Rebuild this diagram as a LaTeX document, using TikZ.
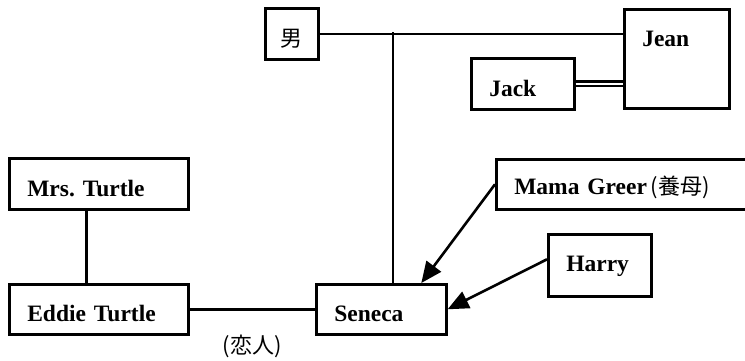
\documentclass[tikz,border=0pt]{standalone}
\usepackage{fontspec}
\setmainfont[WordSpace=0.8]{Liberation Serif}
\newfontfamily\cjk{Noto Sans CJK JP}
\usetikzlibrary{arrows.meta}

\begin{document}
\begin{tikzpicture}[x=1pt, y=-1pt, line width=2.6pt, >={Triangle[length=21pt, width=18pt]}, font=\fontsize{23.5}{26}\selectfont\bfseries]
    \tikzstyle{person}=[draw=black, rectangle, line width=2.6pt, anchor=north west, inner xsep=18pt, inner ysep=0pt, text height=38pt, text depth=13pt, align=left]
    \tikzstyle{kanji}=[font=\fontsize{22}{24}\selectfont\mdseries\cjk]

    \useasboundingbox (0,0) rectangle (745,360);

    % family boxes
    \node[person, kanji, inner xsep=0pt, minimum width=53pt, align=center] (man) at (264,7) {男};
    \node[person, text width=69pt, text height=37pt, text depth=62pt] (jean) at (623,8) {Jean};
    \node[person, text width=67pt] (jack) at (470,57) {Jack};
    \node[person, text width=143pt] (mrs) at (8,157) {Mrs.\ Turtle};
    \node[person, text width=143pt, text height=37pt] (eddie) at (8,283) {Eddie Turtle};
    \node[person, text width=94pt, text height=37pt] (seneca) at (315,283) {Seneca};
    \node[person, text width=229pt, text height=35pt, text depth=15pt] (mama) at (495,158) {Mama Greer\,{\fontsize{22}{24}\selectfont\mdseries\cjk(養母)}};
    \node[person, text width=67pt, text height=37pt, text depth=25pt] (harry) at (547,233) {Harry};

    \node[kanji] (lovers) at (252,346) {(恋人)};

    % ties
    \coordinate (split) at (393,32);
    \draw (man.east) -- (man.east -| jean.west);
    \draw (split) -- (split |- seneca.north);
    \draw[line width=2.4pt, double, double distance=2.4pt] (jack.east) -- (jack.east -| jean.west);
    \draw ([xshift=-12.5pt]mrs.south) -- ([xshift=-12.5pt]eddie.north);
    \draw (eddie) -- (seneca);

    \draw[->] (mama.west) -- ([xshift=40pt]seneca.north);
    \draw[->] ([yshift=6pt]harry.west) -- (seneca.east);
\end{tikzpicture}
\end{document}
